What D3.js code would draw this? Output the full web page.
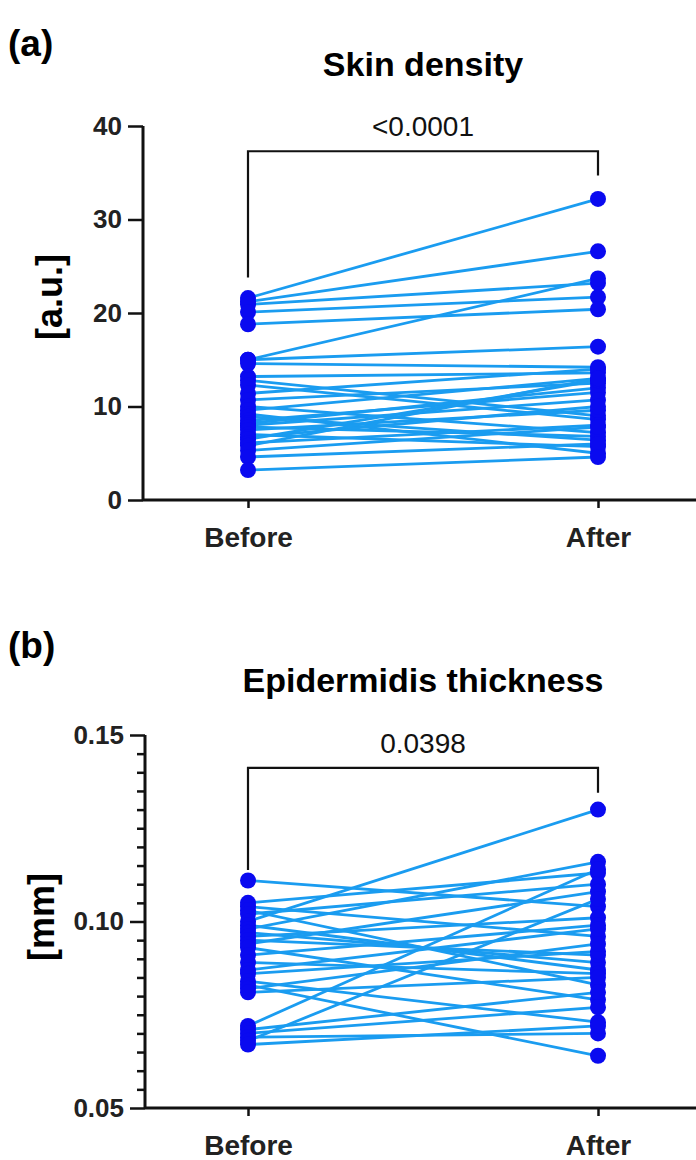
<!DOCTYPE html>
<html>
<head>
<meta charset="utf-8">
<script src="https://cdn.jsdelivr.net/npm/d3@7"></script>
<style>
  body { margin: 0; background: #fff; }
  svg text { font-family: "Liberation Sans", Arial, sans-serif; }
</style>
</head>
<body>
<div id="chart"></div>
<script>
var groups = ["Before", "After"];

// (a) skin density, paired values
var skinBefore = [21.6, 21.2, 20.9, 20.1, 18.8, 15.0, 15.0, 14.6, 13.2, 12.8, 12.3, 11.4, 10.7, 10.0, 9.6, 9.2, 8.9, 8.5, 8.2, 8.0, 7.8, 7.5, 7.0, 6.7, 6.5, 6.1, 5.8, 5.3, 4.6, 3.2];
var skinAfter  = [32.2, 26.6, 23.2, 21.7, 20.4, 23.7, 16.4, 14.2, 13.6, 9.0, 8.6, 14.0, 12.5, 7.2, 13.0, 5.0, 6.4, 11.5, 12.0, 10.7, 6.8, 9.6, 5.7, 10.0, 12.8, 8.0, 13.0, 7.8, 6.0, 4.6];
var skinTicks = [0, 10, 20, 30, 40];

// (b) epidermidis thickness, paired values
var epiBefore = [0.111, 0.105, 0.104, 0.103, 0.102, 0.100, 0.099, 0.098, 0.097, 0.096, 0.095, 0.094, 0.093, 0.091, 0.089, 0.087, 0.086, 0.084, 0.083, 0.082, 0.081, 0.072, 0.071, 0.070, 0.069, 0.068, 0.067];
var epiAfter  = [0.104, 0.113, 0.096, 0.083, 0.110, 0.130, 0.087, 0.116, 0.089, 0.101, 0.091, 0.108, 0.079, 0.099, 0.086, 0.098, 0.092, 0.073, 0.064, 0.094, 0.085, 0.114, 0.081, 0.077, 0.070, 0.106, 0.072];
var epiTicks = [0.05, 0.10, 0.15];

var svg = d3.select("#chart").append("svg")
            .attr("width", 696)
            .attr("height", 1160);

var lineCol = "#1a9cf0";
var dotCol = "#0a0af0";

function drawPanel(o) {
  var g = svg.append("g");
  var y = d3.scaleLinear().domain(o.domain).range([o.bottom, o.top]);
  var x = d3.scalePoint().domain(groups).range([248, 598]);

  // panel letter and title
  g.append("text").text(o.letter)
   .attr("x", 8).attr("y", o.letterY)
   .attr("font-size", "37px").attr("font-weight", "bold");
  g.append("text").text(o.title)
   .attr("x", 423).attr("y", o.titleY)
   .attr("text-anchor", "middle")
   .attr("font-size", "34px").attr("font-weight", "bold");

  // y axis
  var yAxis = d3.axisLeft(y).tickValues(o.ticks).tickFormat(o.fmt).tickSize(15).tickPadding(6);
  var ya = g.append("g").attr("transform", "translate(" + o.axisX + ",0)").call(yAxis);
  if (o.minor) {
    var ym = d3.axisLeft(y).tickValues(o.minor).tickFormat("").tickSize(8);
    var ym2 = g.append("g").attr("transform", "translate(" + o.axisX + ",0)").call(ym);
    ym2.select(".domain").remove();
    ym2.selectAll("line").attr("stroke-width", 2.5).attr("stroke", "#111");
  }
  ya.select(".domain").attr("stroke-width", 3).attr("stroke", "#111")
    .attr("d", "M0," + o.top + "V" + o.bottom);
  ya.selectAll(".tick line").attr("stroke-width", 2.5).attr("stroke", "#111");
  ya.selectAll(".tick text")
    .attr("font-size", "26px").attr("font-weight", "bold")
    .attr("fill", "#222").attr("font-family", "Liberation Sans, Arial, sans-serif");

  // x axis
  var xa = g.append("g").attr("transform", "translate(0," + o.bottom + ")")
            .call(d3.axisBottom(x).tickSize(8).tickPadding(19));
  xa.select(".domain").attr("stroke-width", 3).attr("stroke", "#111")
    .attr("d", "M" + o.axisX + ",0H696");
  xa.selectAll(".tick line").attr("stroke-width", 2.5).attr("stroke", "#111");
  xa.selectAll(".tick text")
    .attr("font-size", "28px").attr("font-weight", "bold")
    .attr("fill", "#222").attr("font-family", "Liberation Sans, Arial, sans-serif");

  // axis unit label
  g.append("text").text(o.unit)
   .attr("transform", "translate(" + o.unitX + "," + o.unitY + ") rotate(-90)")
   .attr("text-anchor", "middle")
   .attr("font-size", "36px").attr("font-weight", "bold");

  // paired lines
  var pairs = o.before.map(function(b, i) { return [b, o.after[i]]; });
  g.selectAll("line.pair").data(pairs).enter().append("line")
   .attr("class", "pair")
   .attr("x1", x("Before")).attr("x2", x("After"))
   .attr("y1", function(d) { return y(d[0]); })
   .attr("y2", function(d) { return y(d[1]); })
   .attr("stroke", lineCol).attr("stroke-width", 2.8);

  g.selectAll("circle.b").data(o.before).enter().append("circle")
   .attr("cx", x("Before")).attr("cy", function(d) { return y(d); })
   .attr("r", 8).attr("fill", dotCol);
  g.selectAll("circle.a").data(o.after).enter().append("circle")
   .attr("cx", x("After")).attr("cy", function(d) { return y(d); })
   .attr("r", 8).attr("fill", dotCol);

  // significance bracket
  var bk = o.bracket;
  g.append("path")
   .attr("d", "M" + x("Before") + "," + y(bk[1]) + "V" + y(bk[0]) + "H" + x("After") + "V" + y(bk[2]))
   .attr("fill", "none").attr("stroke", "#111").attr("stroke-width", 2.2);
  g.append("text").text(o.pval)
   .attr("x", 423).attr("y", y(bk[0]) - 15)
   .attr("text-anchor", "middle")
   .attr("font-size", "28px").attr("fill", "#111");
}

drawPanel({
  letter: "(a)", letterY: 56, title: "Skin density", titleY: 76,
  domain: [0, 40], top: 126, bottom: 500, axisX: 143,
  ticks: skinTicks, fmt: d3.format("d"), minor: null,
  unit: "[a.u.]", unitX: 62, unitY: 297,
  before: skinBefore, after: skinAfter,
  bracket: [37.3, 23.8, 34.7], pval: "<0.0001"
});

drawPanel({
  letter: "(b)", letterY: 658, title: "Epidermidis thickness", titleY: 692,
  domain: [0.05, 0.15], top: 735, bottom: 1108, axisX: 145,
  ticks: epiTicks, fmt: d3.format(".2f"),
  minor: d3.range(1, 20).map(function(i) { return 0.05 + i * 0.005; }).filter(function(v, i) { return i !== 9; }),
  unit: "[mm]", unitX: 54, unitY: 917,
  before: epiBefore, after: epiAfter,
  bracket: [0.1412, 0.1138, 0.1345], pval: "0.0398"
});
</script>
</body>
</html>
